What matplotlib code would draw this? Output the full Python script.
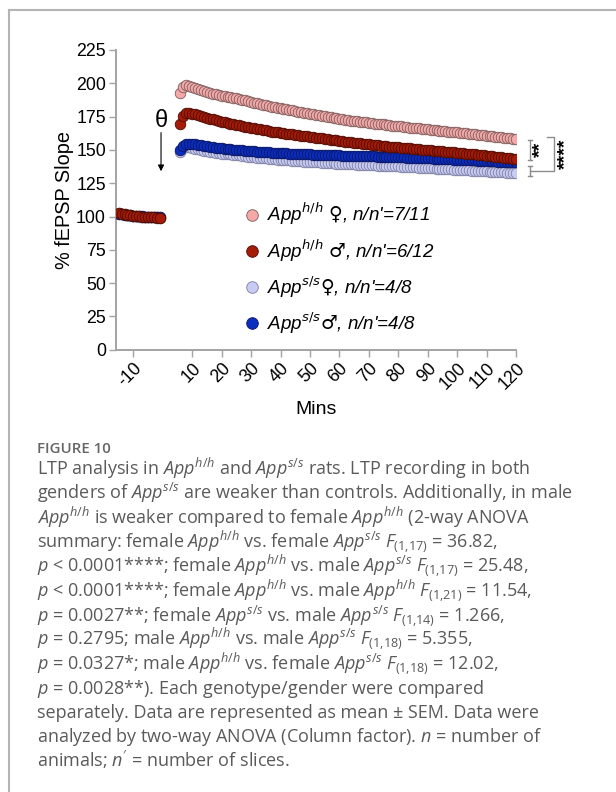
import matplotlib.pyplot as plt
import numpy as np

plt.rcParams['font.family'] = ['Liberation Sans', 'DejaVu Sans']
plt.rcParams['mathtext.fontset'] = 'custom'
plt.rcParams['mathtext.rm'] = 'Open Sans'
plt.rcParams['mathtext.it'] = 'Open Sans:italic'
plt.rcParams['mathtext.default'] = 'it'
plt.rcParams['axes.unicode_minus'] = False

# sampling times (min); theta burst at 0
base_min = np.arange(-15, 0)
post_min = np.arange(6, 121)

names = ["App$^{h/h}$ $\u2640$, n/n'=7/11", "App$^{h/h}$ $\u2642$, n/n'=6/12",
         "App$^{s/s}\u2640$, n/n'=4/8", "App$^{s/s}\u2642$, n/n'=4/8"]

hh_f_base = [102.6, 102.2, 101.8, 101.4, 101.0, 100.7, 100.4, 100.2, 100.0, 99.8, 99.7, 99.6, 99.4, 99.3, 99.1]
hh_m_base = [102.4, 102.0, 101.6, 101.2, 100.9, 100.6, 100.3, 100.1, 99.9, 99.7, 99.6, 99.5, 99.3, 99.2, 98.9]
ss_f_base = [101.9, 101.6, 101.3, 101.0, 100.7, 100.4, 100.2, 100.0, 99.9, 99.8, 99.7, 99.6, 99.6, 99.5, 99.4]
ss_m_base = [102.0, 101.7, 101.4, 101.1, 100.8, 100.6, 100.4, 100.2, 100.1, 100.0, 99.9, 99.8, 99.7, 99.7, 99.6]

hh_f_post = [193.0, 197.5, 198.4, 198.2, 197.6, 196.8, 195.9, 195.0, 194.2, 193.4,
             192.8, 192.2, 191.7, 191.2, 190.8, 190.3, 189.9, 189.5, 189.1, 188.7,
             188.2, 187.7, 187.2, 186.6, 186.1, 185.5, 185.0, 184.5, 184.0, 183.5,
             183.0, 182.5, 182.1, 181.6, 181.2, 180.8, 180.4, 180.0, 179.6, 179.2,
             178.8, 178.4, 178.0, 177.6, 177.2, 176.8, 176.4, 176.0, 175.6, 175.2,
             174.8, 174.4, 174.0, 173.6, 173.2, 172.9, 172.6, 172.3, 172.0, 171.7,
             171.4, 171.2, 170.9, 170.6, 170.3, 170.1, 169.8, 169.6, 169.3, 169.1,
             168.8, 168.6, 168.3, 168.1, 167.8, 167.6, 167.3, 167.1, 166.8, 166.6,
             166.4, 166.1, 165.9, 165.7, 165.5, 165.2, 165.0, 164.8, 164.5, 164.3,
             164.1, 163.8, 163.6, 163.3, 163.1, 162.9, 162.6, 162.4, 162.1, 161.9,
             161.7, 161.4, 161.2, 160.9, 160.7, 160.5, 160.2, 160.0, 159.7, 159.5,
             159.2, 159.0, 158.7, 158.5, 158.2]
hh_m_post = [169.8, 175.6, 177.4, 177.6, 177.2, 176.7, 176.1, 175.4, 174.8, 174.1,
             173.5, 172.9, 172.4, 171.8, 171.3, 170.8, 170.3, 169.8, 169.3, 168.9,
             168.4, 167.9, 167.5, 167.0, 166.6, 166.2, 165.8, 165.4, 165.0, 164.6,
             164.2, 163.8, 163.5, 163.1, 162.8, 162.5, 162.2, 161.9, 161.6, 161.3,
             161.0, 160.7, 160.4, 160.1, 159.8, 159.5, 159.2, 158.9, 158.6, 158.3,
             158.0, 157.7, 157.4, 157.1, 156.8, 156.5, 156.3, 156.0, 155.8, 155.5,
             155.3, 155.0, 154.8, 154.5, 154.3, 154.0, 153.8, 153.5, 153.3, 153.0,
             152.8, 152.5, 152.3, 152.1, 151.9, 151.7, 151.5, 151.3, 151.1, 150.9,
             150.7, 150.5, 150.3, 150.1, 149.9, 149.7, 149.5, 149.3, 149.1, 148.9,
             148.7, 148.5, 148.3, 148.1, 147.8, 147.6, 147.4, 147.2, 147.0, 146.8,
             146.6, 146.3, 146.1, 145.9, 145.7, 145.5, 145.2, 145.0, 144.8, 144.5,
             144.3, 144.0, 143.8, 143.5, 143.3]
ss_f_post = [148.5, 151.5, 152.3, 152.0, 151.5, 151.0, 150.4, 149.9, 149.4, 148.9,
             148.5, 148.1, 147.8, 147.5, 147.2, 147.0, 146.8, 146.6, 146.4, 146.2,
             145.9, 145.6, 145.3, 145.0, 144.7, 144.5, 144.2, 144.0, 143.8, 143.6,
             143.4, 143.2, 143.0, 142.8, 142.6, 142.5, 142.3, 142.1, 142.0, 141.8,
             141.6, 141.5, 141.3, 141.2, 141.0, 140.9, 140.7, 140.6, 140.5, 140.3,
             140.2, 140.1, 139.9, 139.8, 139.7, 139.6, 139.5, 139.4, 139.3, 139.2,
             139.0, 138.9, 138.8, 138.7, 138.6, 138.5, 138.4, 138.3, 138.2, 138.1,
             138.0, 137.9, 137.8, 137.7, 137.6, 137.5, 137.3, 137.2, 137.1, 137.0,
             136.9, 136.8, 136.6, 136.5, 136.4, 136.3, 136.2, 136.0, 135.9, 135.8,
             135.7, 135.5, 135.4, 135.3, 135.2, 135.0, 134.9, 134.8, 134.7, 134.5,
             134.4, 134.3, 134.2, 134.0, 133.9, 133.8, 133.6, 133.5, 133.4, 133.2,
             133.1, 133.0, 132.9, 132.7, 132.6]
ss_m_post = [150.0, 153.2, 154.5, 154.7, 154.5, 154.2, 153.8, 153.4, 153.0, 152.7,
             152.4, 152.1, 151.8, 151.5, 151.2, 151.0, 150.7, 150.5, 150.3, 150.1,
             149.9, 149.7, 149.5, 149.3, 149.1, 149.0, 148.8, 148.6, 148.5, 148.3,
             148.2, 148.0, 147.9, 147.8, 147.6, 147.5, 147.4, 147.3, 147.2, 147.1,
             147.0, 146.9, 146.8, 146.7, 146.6, 146.5, 146.5, 146.4, 146.3, 146.2,
             146.2, 146.1, 146.0, 146.0, 145.9, 145.8, 145.8, 145.7, 145.6, 145.6,
             145.5, 145.4, 145.4, 145.3, 145.2, 145.2, 145.1, 145.0, 145.0, 144.9,
             144.8, 144.7, 144.7, 144.6, 144.5, 144.4, 144.4, 144.3, 144.2, 144.1,
             144.1, 144.0, 143.9, 143.8, 143.7, 143.6, 143.5, 143.4, 143.3, 143.2,
             143.1, 143.0, 142.9, 142.8, 142.7, 142.6, 142.5, 142.4, 142.3, 142.2,
             142.1, 142.0, 141.9, 141.8, 141.7, 141.6, 141.5, 141.4, 141.3, 141.2,
             141.1, 141.0, 140.9, 140.8, 140.7]

# SEM (approx, read from error caps)
sems = [2.2, 1.3, 1.3, 1.0]

face = ['#f5a8a8', '#a61b08', '#c8cbf3', '#0b2ec0']
edge = ['#7a5c5c', '#4a0c04', '#7c7ea0', '#0a1560']

xticks = [-10, 10, 20, 30, 40, 50, 60, 70, 80, 90, 100, 110, 120]
yticks = [0, 25, 50, 75, 100, 125, 150, 175, 200, 225]

caption = [
    "LTP analysis in $App^{h/h}$ and $App^{s/s}$ rats. LTP recording in both",
    "genders of $App^{s/s}$ are weaker than controls. Additionally, in male",
    "$App^{h/h}$ is weaker compared to female $App^{h/h}$ (2-way ANOVA",
    "summary: female $App^{h/h}$ vs. female $App^{s/s}$ $F_{(1{,}17)}$ = 36.82,",
    "$p$ < 0.0001****; female $App^{h/h}$ vs. male $App^{s/s}$ $F_{(1{,}17)}$ = 25.48,",
    "$p$ < 0.0001****; female $App^{h/h}$ vs. male $App^{h/h}$ $F_{(1{,}21)}$ = 11.54,",
    "$p$ = 0.0027**; female $App^{s/s}$ vs. male $App^{s/s}$ $F_{(1{,}14)}$ = 1.266,",
    "$p$ = 0.2795; male $App^{h/h}$ vs. male $App^{s/s}$ $F_{(1{,}18)}$ = 5.355,",
    "$p$ = 0.0327*; male $App^{h/h}$ vs. female $App^{s/s}$ $F_{(1{,}18)}$ = 12.02,",
    "$p$ = 0.0028**). Each genotype/gender were compared",
    "separately. Data are represented as mean \u00b1 SEM. Data were",
    "analyzed by two-way ANOVA (Column factor). $n$ = number of",
    "animals; $n'$ = number of slices.",
]

W, H = 616, 792
fig = plt.figure(figsize=(6.16, 7.92), dpi=100)
ax = fig.add_axes([115.7 / W, 1 - 349.8 / H, (516 - 115.7) / W, (349.8 - 50) / H])

bases = [hh_f_base, hh_m_base, ss_f_base, ss_m_base]
posts = [hh_f_post, hh_m_post, ss_f_post, ss_m_post]
handles = [None] * 4
for k, i in enumerate([0, 2, 3, 1]):
    x = np.concatenate([base_min, post_min])
    y = np.concatenate([bases[i], posts[i]])
    ax.errorbar(x, y, yerr=sems[i], fmt='none', ecolor='#6e6e6e',
                elinewidth=0.7, capsize=2, capthick=0.7, zorder=2)
    ln, = ax.plot(x, y, 'o', ms=7.6, mfc=face[i], mec=edge[i], mew=0.6,
                  ls='none', zorder=3 + k)
    handles[i] = ln

ax.set_xlim(-16, 120)
ax.set_ylim(0, 225)
for s in ['top', 'right']:
    ax.spines[s].set_visible(False)
for s in ['left', 'bottom']:
    ax.spines[s].set_color('#a3a3a3')
    ax.spines[s].set_linewidth(1.4)
ax.set_xticks(xticks)
ax.set_yticks(yticks)
ax.tick_params(colors='#a3a3a3', labelcolor='black', length=5, width=1, labelsize=12.8, pad=2)
ax.set_xticklabels([str(t) for t in xticks], rotation=45, ha='right', rotation_mode='anchor')
ax.set_ylabel('% fEPSP Slope', fontsize=14.3)
ax.yaxis.set_label_coords(-0.105, 0.5)
ax.set_xlabel('Mins', fontsize=14, labelpad=6)

# theta burst marker
ax.text(-0.4, 172, '\u03b8', fontsize=17, ha='center', va='center')
ax.annotate('', xy=(-0.6, 134), xytext=(-0.6, 163),
            arrowprops=dict(arrowstyle='-|>', color='black', lw=0.8,
                            mutation_scale=9, shrinkA=0, shrinkB=0))

# significance brackets
bk = dict(color='#8c8c8c', lw=1, clip_on=False)
for y0, y1 in [(157.6, 142.7), (138.2, 130.7)]:
    ax.plot([124.9, 124.9], [y0, y1], **bk)
    ax.plot([124.2, 125.6], [y0, y0], **bk)
    ax.plot([124.2, 125.6], [y1, y1], **bk)
ax.plot([130.6, 132.8, 132.8, 124.9], [159.6, 159.6, 134.4, 134.4], **bk)
ax.text(128.5, 150.2, '**', rotation=90, fontsize=14, fontweight='bold',
        ha='center', va='center', clip_on=False)
ax.text(137.0, 146.9, '****', rotation=90, fontsize=14, fontweight='bold',
        ha='center', va='center', clip_on=False)

ax.legend(handles, names, loc='upper left', bbox_to_anchor=(244 / W, 1 - 201 / H),
          bbox_transform=fig.transFigure, frameon=False, borderpad=0, borderaxespad=0,
          handlelength=0.8, handletextpad=0.45, labelspacing=0.56, markerscale=1.1,
          prop=dict(family=['Liberation Sans', 'DejaVu Sans'],
                    style='italic', size=13.5, math_fontfamily='dejavusans'))

# frame of the figure panel
fig.add_artist(plt.Line2D([9 / W, 9 / W], [0, 1 - 10 / H], color='#b4b4b4', lw=1.5))
fig.add_artist(plt.Line2D([9 / W, 1], [1 - 10 / H, 1 - 10 / H], color='#b4b4b4', lw=1.5))

fig.text(37 / W, 1 - 453 / H, 'FIGURE 10', fontsize=10.8, fontweight='semibold',
         color='#666666', family='Open Sans', va='baseline')
for i, line in enumerate(caption):
    fig.text(37 / W, 1 - (475 + 24.3 * i) / H, line, fontsize=13.0, color='#5a5a5a',
             family='Open Sans', va='baseline')

fig.savefig('out.png', dpi=100)
